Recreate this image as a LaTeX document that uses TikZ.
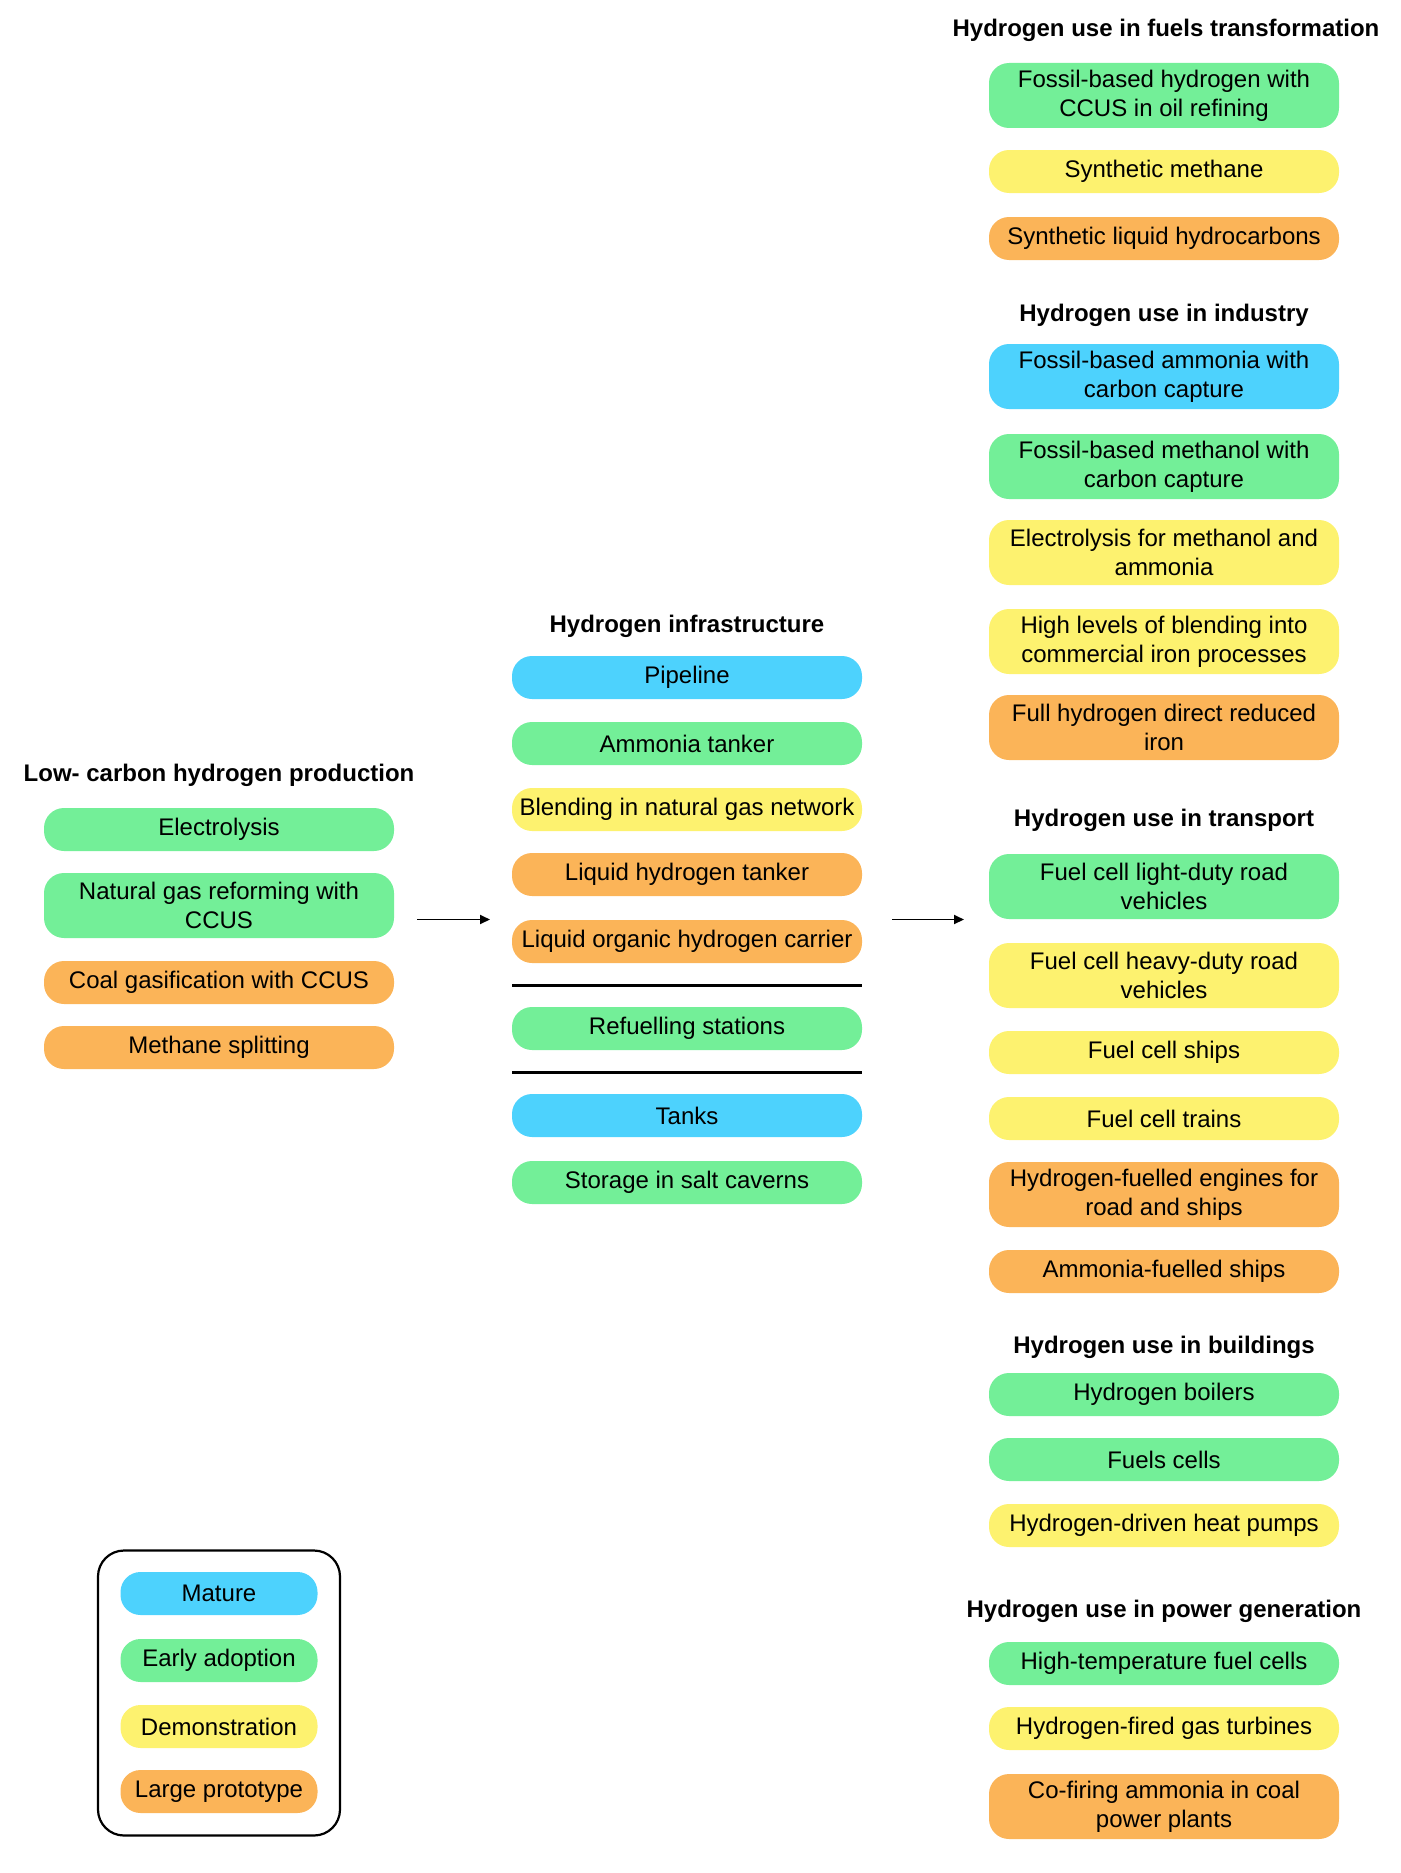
\documentclass[tikz,border=0pt]{standalone}
\usepackage{fontspec}
\setmainfont{Liberation Sans}
\usetikzlibrary{arrows.meta}
\newcommand\boxfont{\fontsize{24}{28.8}\selectfont}
\definecolor{cmature}{HTML}{4DD2FD}
\definecolor{cearly}{HTML}{73EF98}
\definecolor{cdemo}{HTML}{FDF26F}
\definecolor{cproto}{HTML}{FBB458}
\tikzset{
  box/.style={rounded corners=20pt, minimum width=350pt, minimum height=43pt,
    align=center, inner sep=0pt, font=\boxfont},
  tall/.style={minimum height=65pt},
  mat/.style={box, fill=cmature},
  ear/.style={box, fill=cearly},
  dem/.style={box, fill=cdemo},
  pro/.style={box, fill=cproto},
  lgd/.style={minimum width=197pt},
  head/.style={font=\boxfont\bfseries, inner sep=0pt},
  sep/.style={line width=2.4pt},
  flow/.style={line width=1.8pt, -{Triangle[length=10pt,width=9pt]}}
}
\begin{document}
\begin{tikzpicture}[x=1pt,y=-1pt]
\useasboundingbox (0,0) rectangle (1400,1873);
\begin{scope}[yshift=-1.5pt]
% right column
\node[head] (hfuel) at (1166,29) {Hydrogen use in fuels transformation};
\node[ear,tall] (f1) at (1164,94) {Fossil-based hydrogen with\\CCUS in oil refining};
\node[dem] (f2) at (1164,170) {Synthetic methane};
\node[pro] (f3) at (1164,237) {Synthetic liquid hydrocarbons};
\node[head] (hind) at (1164,314) {Hydrogen use in industry};
\node[mat,tall] (i1) at (1164,375) {Fossil-based ammonia with\\carbon capture};
\node[ear,tall] (i2) at (1164,465) {Fossil-based methanol with\\carbon capture};
\node[dem,tall] (i3) at (1164,551) {Electrolysis for methanol and\\ammonia};
\node[dem,tall] (i4) at (1164,640) {High levels of blending into\\commercial iron processes};
\node[pro,tall] (i5) at (1164,726) {Full hydrogen direct reduced\\iron};
\node[head] (htr) at (1164,819) {Hydrogen use in transport};
\node[ear,tall] (t1) at (1164,885) {Fuel cell light-duty road\\vehicles};
\node[dem,tall] (t2) at (1164,974) {Fuel cell heavy-duty road\\vehicles};
\node[dem] (t3) at (1164,1051) {Fuel cell ships};
\node[dem] (t4) at (1164,1117) {Fuel cell trains};
\node[pro,tall] (t5) at (1164,1193) {Hydrogen-fuelled engines for\\road and ships};
\node[pro] (t6) at (1164,1270) {Ammonia-fuelled ships};
\node[head] (hbu) at (1164,1346) {Hydrogen use in buildings};
\node[ear] (b1) at (1164,1393) {Hydrogen boilers};
\node[ear] (b2) at (1164,1458) {Fuels cells};
\node[dem] (b3) at (1164,1524) {Hydrogen-driven heat pumps};
\node[head] (hpo) at (1164,1610) {Hydrogen use in power generation};
\node[ear] (p1) at (1164,1662) {High-temperature fuel cells};
\node[dem] (p2) at (1164,1727) {Hydrogen-fired gas turbines};
\node[pro,tall] (p3) at (1164,1805) {Co-firing ammonia in coal\\power plants};
% middle column
\node[head] (hinf) at (687,625) {Hydrogen infrastructure};
\node[mat] (m1) at (687,676) {Pipeline};
\node[ear] (m2) at (687,742) {Ammonia tanker};
\node[dem] (m3) at (687,808) {Blending in natural gas network};
\node[pro] (m4) at (687,873) {Liquid hydrogen tanker};
\node[pro] (m5) at (687,940) {Liquid organic hydrogen carrier};
\coordinate (s1a) at (512,984); \coordinate (s1b) at (862,984);
\draw[sep] (s1a) -- (s1b);
\node[ear] (m6) at (687,1027) {Refuelling stations};
\coordinate (s2a) at (512,1071); \coordinate (s2b) at (862,1071);
\draw[sep] (s2a) -- (s2b);
\node[mat] (m7) at (687,1114) {Tanks};
\node[ear] (m8) at (687,1181) {Storage in salt caverns};
% left column
\node[head] (hlow) at (219,774) {Low- carbon hydrogen production};
\node[ear] (l1) at (219,828) {Electrolysis};
\node[ear,tall] (l2) at (219,904) {Natural gas reforming with\\CCUS};
\node[pro] (l3) at (219,981) {Coal gasification with CCUS};
\node[pro] (l4) at (219,1046) {Methane splitting};
% arrows
\coordinate (a1s) at (417,918); \coordinate (a1e) at (490,918);
\coordinate (a2s) at (892,918); \coordinate (a2e) at (964,918);
\draw[flow] (a1s) -- (a1e);
\draw[flow] (a2s) -- (a2e);
% legend
\node[draw, line width=2.2pt, rounded corners=26pt, minimum width=242pt, minimum height=285pt] (leg) at (219,1691.5) {};
\node[mat,lgd] (k1) at (219,1592) {Mature};
\node[ear,lgd] (k2) at (219,1659) {Early adoption};
\node[dem,lgd] (k3) at (219,1725) {Demonstration};
\node[pro,lgd] (k4) at (219,1790) {Large prototype};
\end{scope}
\end{tikzpicture}
\end{document}
